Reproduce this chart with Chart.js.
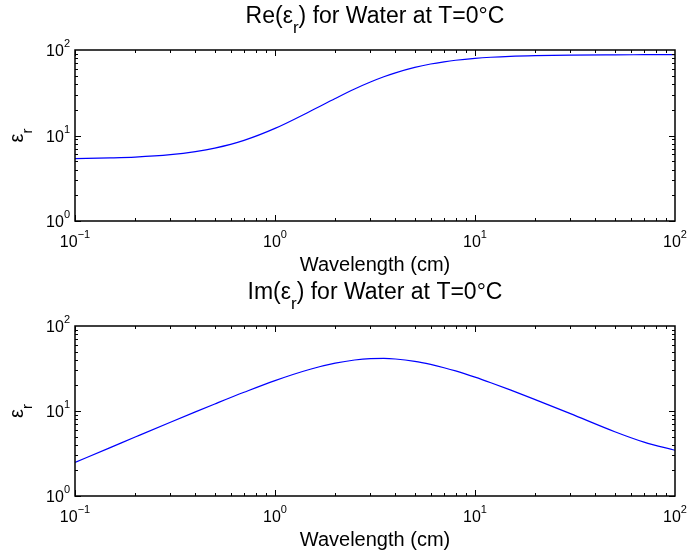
<!DOCTYPE html>
<html>
<head>
<meta charset="utf-8">
<script src="https://cdn.jsdelivr.net/npm/chart.js@4.4.0/dist/chart.umd.min.js"></script>
<style>
    html, body { margin: 0; padding: 0; background: #fff; }
    canvas { display: block; }
</style>
</head>
<body>
<canvas id="reChart" width="692" height="278"></canvas>
<canvas id="imChart" width="692" height="278"></canvas>
<script>
// wavelength in cm
var wavelength = [0.1, 0.15, 0.2, 0.3, 0.4, 0.5, 0.7, 1, 1.5, 2, 2.5, 3, 3.5, 4, 5, 6, 7, 8, 10, 12, 15, 20, 30, 50, 70, 100];
var reEps = [5.37, 5.47, 5.59, 5.96, 6.47, 7.11, 8.77, 12.1, 19.2, 27.1, 35.0, 42.2, 48.6, 54.1, 62.6, 68.6, 72.8, 75.9, 79.9, 82.3, 84.4, 86.0, 87.3, 87.9, 88.1, 88.2];
var imEps = [2.48, 3.71, 4.94, 7.38, 9.77, 12.1, 16.6, 22.8, 31.0, 36.5, 39.8, 41.3, 41.5, 40.9, 38.4, 35.3, 32.3, 29.6, 25.0, 21.5, 17.7, 13.6, 9.3, 5.7, 4.3, 3.45];

var xDecades = [-1, 0, 1, 2];   // tick labels 10^-1 .. 10^2
var yDecades = [0, 1, 2];       // tick labels 10^0 .. 10^2
var xLabel = 'Wavelength (cm)';

var FONT = '"Liberation Sans", Arial, Helvetica, sans-serif';

// draw text pieces, some of them sub/superscript, centred on cx
function drawPieces(ctx, pieces, cx, base, align) {
    var total = 0;
    pieces.forEach(function(p) {
        ctx.font = p.size + 'px ' + FONT;
        p.w = ctx.measureText(p.text).width;
        total += p.w;
    });
    var x = align === 'right' ? cx - total : cx - total / 2;
    ctx.textAlign = 'left';
    ctx.textBaseline = 'alphabetic';
    pieces.forEach(function(p) {
        ctx.font = p.size + 'px ' + FONT;
        ctx.fillText(p.text, x, base + (p.dy || 0));
        x += p.w;
    });
}

function powLabel(e) {
    return [{text: '10', size: 16}, {text: e < 0 ? '\u2212' + (-e) : String(e), size: 11, dy: -9}];
}

function epsPieces(prefix, suffix, size) {
    return [{text: prefix + '\u03b5', size: size}, {text: 'r', size: Math.round(size * 0.75), dy: Math.round(size * 0.45)}, {text: suffix, size: size}];
}

var matlabAxes = {
    id: 'matlabAxes',
    afterDraw: function(chart, args, opts) {
        var ctx = chart.ctx;
        var a = chart.chartArea;
        var xs = chart.scales.x, ys = chart.scales.y;
        ctx.save();
        ctx.strokeStyle = '#000';
        ctx.fillStyle = '#000';
        ctx.lineWidth = 1;

        // inward ticks on all four sides
        ctx.beginPath();
        for (var d = -1; d < 2; d++) {
            for (var m = 1; m < 10; m++) {
                var px = Math.round(xs.getPixelForValue(m * Math.pow(10, d))) + 0.5;
                var len = m === 1 ? 6 : 3;
                ctx.moveTo(px, a.bottom); ctx.lineTo(px, a.bottom - len);
                ctx.moveTo(px, a.top); ctx.lineTo(px, a.top + len);
            }
        }
        for (var d = 0; d < 2; d++) {
            for (var m = 1; m < 10; m++) {
                var py = Math.round(ys.getPixelForValue(m * Math.pow(10, d))) + 0.5;
                var len = m === 1 ? 6 : 3;
                ctx.moveTo(a.left, py); ctx.lineTo(a.left + len, py);
                ctx.moveTo(a.right, py); ctx.lineTo(a.right - len, py);
            }
        }
        ctx.stroke();

        ctx.lineWidth = 1.5;
        ctx.strokeRect(a.left, a.top, a.right - a.left, a.bottom - a.top);

        // tick labels
        xDecades.forEach(function(e) {
            var px = xs.getPixelForValue(Math.pow(10, e));
            drawPieces(ctx, powLabel(e), px, a.bottom + 26);
        });
        yDecades.forEach(function(e) {
            var py = ys.getPixelForValue(Math.pow(10, e));
            drawPieces(ctx, powLabel(e), a.left - 5, py + 6, 'right');
        });

        // title and axis labels
        var cx = (a.left + a.right) / 2;
        drawPieces(ctx, epsPieces(opts.prefix, ') for Water at T=0\u00b0C', 23), cx, a.top - 27);
        drawPieces(ctx, [{text: xLabel, size: 20}], cx, a.bottom + 50);

        ctx.translate(23, (a.top + a.bottom) / 2);
        ctx.rotate(-Math.PI / 2);
        drawPieces(ctx, epsPieces('', '', 20), 0, 0);
        ctx.restore();
    }
};

function makeChart(id, values, prefix, padTop, padBottom) {
    var ctx = document.getElementById(id).getContext('2d');
    return new Chart(ctx, {
        type: 'line',
        data: {
            datasets: [{
                data: wavelength.map(function(w, i) { return {x: w, y: values[i]}; }),
                borderColor: '#0000ff',
                borderWidth: 1.2,
                pointRadius: 0,
                fill: false,
                cubicInterpolationMode: 'monotone'
            }]
        },
        options: {
            responsive: false,
            animation: false,
            events: [],
            layout: { padding: { left: 75, right: 17, top: padTop, bottom: padBottom } },
            scales: {
                x: { type: 'logarithmic', min: 0.1, max: 100, display: false },
                y: { type: 'logarithmic', min: 1, max: 100, display: false }
            },
            plugins: {
                legend: { display: false },
                tooltip: { enabled: false },
                matlabAxes: { prefix: prefix }
            }
        },
        plugins: [matlabAxes]
    });
}

makeChart('reChart', reEps, 'Re(', 50, 57);
makeChart('imChart', imEps, 'Im(', 48, 60);
</script>
</body>
</html>
